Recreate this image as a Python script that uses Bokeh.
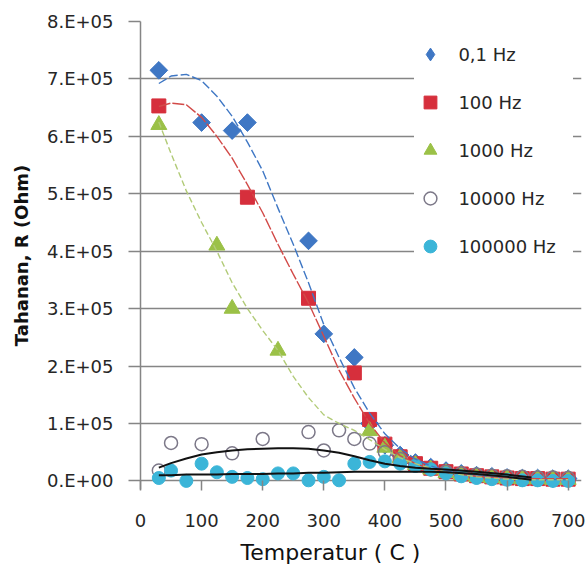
from bokeh.plotting import figure
from bokeh.models import Range1d, FixedTicker, Legend, LegendItem, Title
from bokeh.embed import file_html
from bokeh.resources import INLINE
import math

# ---------------- data ----------------
x_ticks = [0, 100, 200, 300, 400, 500, 600, 700]
x_tick_labels = ["0", "100", "200", "300", "400", "500", "600", "700"]
y_ticks = [0, 100000, 200000, 300000, 400000, 500000, 600000, 700000, 800000]
y_tick_labels = ["0.E+00", "1.E+05", "2.E+05", "3.E+05", "4.E+05",
                 "5.E+05", "6.E+05", "7.E+05", "8.E+05"]

series_names = ["0,1 Hz", "100 Hz", "1000 Hz", "10000 Hz", "100000 Hz"]

temp_01 = [30, 100, 150, 175, 275, 300, 350, 375, 400, 425, 450, 475, 500,
           525, 550, 575, 600, 625, 650, 675, 700]
r_01 = [7.15e5, 6.24e5, 6.10e5, 6.24e5, 4.18e5, 2.56e5, 2.15e5, 1.00e5, 0.62e5,
        0.45e5, 0.32e5, 0.24e5, 0.18e5, 0.13e5, 0.10e5, 0.08e5, 0.06e5, 0.05e5,
        0.05e5, 0.04e5, 0.04e5]

temp_100 = [30, 175, 275, 350, 375, 400, 425, 450, 475, 500, 525, 550, 575,
            600, 625, 650, 675, 700]
r_100 = [6.53e5, 4.94e5, 3.18e5, 1.88e5, 1.07e5, 0.64e5, 0.42e5, 0.30e5, 0.22e5,
         0.16e5, 0.12e5, 0.09e5, 0.07e5, 0.05e5, 0.04e5, 0.04e5, 0.03e5, 0.03e5]

temp_1k = [30, 125, 150, 225, 375, 400, 425, 450, 475, 500, 525, 550, 575,
           600, 625, 650, 675, 700]
r_1k = [6.20e5, 4.10e5, 3.00e5, 2.27e5, 0.87e5, 0.58e5, 0.40e5, 0.28e5, 0.20e5,
        0.14e5, 0.10e5, 0.07e5, 0.05e5, 0.04e5, 0.03e5, 0.03e5, 0.02e5, 0.02e5]

temp_10k = [30, 50, 100, 150, 200, 275, 300, 325, 350, 375, 400, 425, 450, 475,
            500, 525, 550, 575, 600, 625, 650, 675, 700]
r_10k = [0.18e5, 0.66e5, 0.64e5, 0.48e5, 0.73e5, 0.85e5, 0.53e5, 0.88e5, 0.73e5,
         0.65e5, 0.50e5, 0.38e5, 0.27e5, 0.20e5, 0.16e5, 0.13e5, 0.11e5, 0.09e5,
         0.08e5, 0.07e5, 0.06e5, 0.06e5, 0.05e5]

temp_100k = [30, 50, 75, 100, 125, 150, 175, 200, 225, 250, 275, 300, 325, 350,
             375, 400, 425, 450, 475, 500, 525, 550, 575, 600, 625, 650, 675, 700]
r_100k = [0.05e5, 0.18e5, 0.00e5, 0.30e5, 0.15e5, 0.07e5, 0.05e5, 0.03e5, 0.13e5,
          0.13e5, 0.01e5, 0.07e5, 0.01e5, 0.30e5, 0.33e5, 0.34e5, 0.30e5, 0.26e5,
          0.20e5, 0.13e5, 0.08e5, 0.05e5, 0.03e5, 0.02e5, 0.01e5, 0.01e5, 0.00e5,
          0.00e5]

# trendlines
trend_t = [30, 50, 75, 100, 125, 150, 175, 200, 225, 250, 275, 300, 325, 350,
           375, 400, 425, 450, 475, 500, 550, 600, 650, 700]
trend_01 = [6.92e5, 7.05e5, 7.08e5, 6.97e5, 6.70e5, 6.35e5, 5.90e5, 5.40e5, 4.75e5,
            4.12e5, 3.45e5, 2.72e5, 2.15e5, 1.62e5, 1.18e5, 0.82e5, 0.56e5, 0.38e5,
            0.26e5, 0.18e5, 0.09e5, 0.05e5, 0.03e5, 0.02e5]
trend_100 = [6.52e5, 6.58e5, 6.55e5, 6.33e5, 6.00e5, 5.62e5, 5.16e5, 4.67e5, 4.12e5,
             3.60e5, 3.10e5, 2.52e5, 1.93e5, 1.44e5, 1.00e5, 0.66e5, 0.44e5, 0.30e5,
             0.21e5, 0.15e5, 0.08e5, 0.05e5, 0.04e5, 0.04e5]
trend_1k = [6.25e5, 5.70e5, 5.05e5, 4.50e5, 4.00e5, 3.45e5, 3.00e5, 2.62e5, 2.27e5,
            1.82e5, 1.45e5, 1.15e5, 1.00e5, 0.88e5, 0.72e5, 0.55e5, 0.40e5, 0.30e5,
            0.22e5, 0.15e5, 0.07e5, 0.03e5, 0.02e5, 0.02e5]

trend_b_t = [30, 50, 75, 100, 125, 150, 175, 200, 225, 250, 275, 300, 325, 350,
             375, 400, 425, 450, 475, 500, 550, 600, 640]
trend_10k = [0.23e5, 0.31e5, 0.39e5, 0.46e5, 0.50e5, 0.53e5, 0.55e5, 0.56e5, 0.57e5,
             0.57e5, 0.56e5, 0.53e5, 0.49e5, 0.43e5, 0.36e5, 0.30e5, 0.26e5, 0.23e5,
             0.21e5, 0.20e5, 0.16e5, 0.11e5, 0.06e5]
trend_100k = [0.10e5, 0.10e5, 0.11e5, 0.11e5, 0.11e5, 0.12e5, 0.12e5, 0.12e5, 0.13e5,
              0.13e5, 0.14e5, 0.14e5, 0.15e5, 0.16e5, 0.16e5, 0.16e5, 0.16e5, 0.16e5,
              0.16e5, 0.15e5, 0.12e5, 0.07e5, 0.02e5]

# ---------------- styling ----------------
FONT = "DejaVu Sans"
C_BLUE = "#3F77C4"
C_RED = "#D62F3C"
C_GREEN = "#9BC147"
C_GRAY = "#7C7888"
C_CYAN = "#3BB5D8"
GRID = "#858585"

p = figure(width=586, height=572,
           x_range=Range1d(0, 721.8), y_range=Range1d(-15000, 800000),
           output_backend="svg", toolbar_location=None,
           min_border_left=140, min_border_right=5,
           min_border_top=21, min_border_bottom=83)
p.outline_line_color = None
p.background_fill_color = "white"
p.border_fill_color = "white"

p.xgrid.visible = False
p.ygrid.ticker = FixedTicker(ticks=y_ticks)
p.ygrid.grid_line_color = GRID
p.ygrid.grid_line_width = 1.5

# y axis
ya = p.yaxis[0]
ya.ticker = FixedTicker(ticks=y_ticks)
ya.major_label_overrides = dict(zip(y_ticks, y_tick_labels))
ya.axis_label = "Tahanan, R (Ohm)"
ya.axis_label_text_font = FONT
ya.axis_label_text_font_style = "bold"
ya.axis_label_text_font_size = "18px"
ya.axis_label_text_color = "#111111"
ya.axis_label_standoff = 12
ya.major_label_text_font = FONT
ya.major_label_text_font_size = "18px"
ya.major_label_text_color = "#262626"
ya.major_label_standoff = 15
ya.axis_line_color = GRID
ya.axis_line_width = 1.5
ya.major_tick_line_color = GRID
ya.major_tick_line_width = 1.5
ya.major_tick_in = 0
ya.major_tick_out = 12
ya.minor_tick_line_color = None

# x axis
xa = p.xaxis[0]
xa.ticker = FixedTicker(ticks=x_ticks)
xa.major_label_overrides = dict(zip(x_ticks, x_tick_labels))
xa.major_label_text_font = FONT
xa.major_label_text_font_size = "18px"
xa.major_label_text_color = "#262626"
xa.major_label_standoff = 23
xa.axis_line_color = None
xa.major_tick_line_color = GRID
xa.major_tick_line_width = 1.5
xa.major_tick_in = 9
xa.major_tick_out = 1
xa.minor_tick_line_color = None

p.add_layout(Title(text="Temperatur ( C )", align="left", offset=100,
                   text_font=FONT, text_font_size="22px",
                   text_font_style="normal", text_color="#111111",
                   standoff=16), "below")

# markers (a diamond glyph under the 0,1 Hz points is used for the legend)
r1_leg = p.scatter(temp_01, r_01, marker="diamond", size=16,
                   fill_color=C_BLUE, line_color=C_BLUE)
r1 = p.scatter(temp_01, r_01, marker="square", angle=math.pi / 4, size=12.5,
               fill_color=C_BLUE, line_color=C_BLUE)
r2 = p.scatter(temp_100, r_100, marker="square", size=14,
               fill_color=C_RED, line_color=C_RED)
r3 = p.scatter(temp_1k, r_1k, marker="triangle", size=16,
               fill_color=C_GREEN, line_color=C_GREEN)
r4 = p.scatter(temp_10k, r_10k, marker="circle", size=13,
               fill_color=None, line_color=C_GRAY, line_width=1.5)
r5 = p.scatter(temp_100k, r_100k, marker="circle", size=13,
               fill_color=C_CYAN, line_color=C_CYAN)

# trendlines
p.line(trend_t, trend_01, line_color=C_BLUE, line_width=1.4, line_dash="9 3")
p.line(trend_t, trend_100, line_color="#D24A48", line_width=1.4, line_dash="12 2")
p.line(trend_t, trend_1k, line_color="#B2CB78", line_width=1.4, line_dash="6 3")
p.line(trend_b_t, trend_10k, line_color="#111111", line_width=2)
p.line(trend_b_t, trend_100k, line_color="#111111", line_width=2)

legend = Legend(items=[
    LegendItem(label=series_names[0], renderers=[r1_leg]),
    LegendItem(label=series_names[1], renderers=[r2]),
    LegendItem(label=series_names[2], renderers=[r3]),
    LegendItem(label=series_names[3], renderers=[r4]),
    LegendItem(label=series_names[4], renderers=[r5]),
], location=(274.4, 227))
legend.label_text_font = FONT
legend.label_text_font_size = "18px"
legend.label_text_color = "#262626"
legend.background_fill_color = "white"
legend.background_fill_alpha = 1.0
legend.border_line_color = None
legend.glyph_width = 32
legend.glyph_height = 32
legend.label_height = 32
legend.label_width = 115
legend.spacing = 16
legend.padding = 4
legend.margin = 0
legend.label_standoff = 12
p.add_layout(legend)

open("out.html", "w").write(file_html(p, INLINE))
